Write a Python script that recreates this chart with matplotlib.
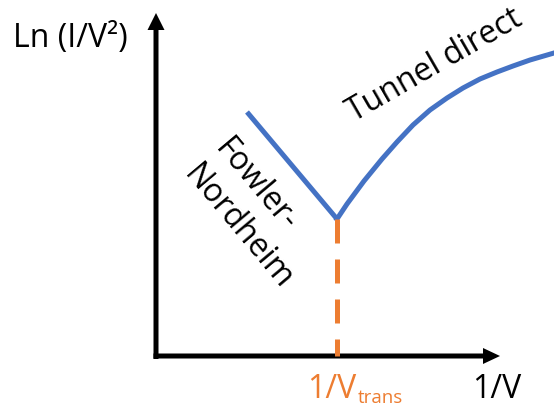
import matplotlib
matplotlib.use('Agg')
import matplotlib.pyplot as plt

plt.rcParams['font.family'] = ['Open Sans', 'DejaVu Sans']

# courbe schematique ln(I/V^2) en fonction de 1/V
x_fn = [0.91, 1.81]
y_fn = [2.44, 1.37]
x_td = [1.81, 1.91, 2.08, 2.26, 2.41, 2.57, 2.74, 2.91, 3.07, 3.24, 3.41, 3.57, 3.74, 3.98]
y_td = [1.37, 1.52, 1.75, 1.97, 2.14, 2.31, 2.46, 2.58, 2.68, 2.77, 2.84, 2.90, 2.96, 3.03]
x_trans = 1.81

bleu = '#4472C4'
orange = '#ED7D31'

fig = plt.figure(figsize=(5.54, 4.07), dpi=100)
ax = fig.add_axes([0, 0, 1, 1])
ax.set_xlim(-1.56, 3.98)
ax.set_ylim(-0.51, 3.56)
ax.axis('off')

# axes avec fleches
ax.arrow(0, -0.03, 0, 3.46, width=0.05, head_width=0.17, head_length=0.17,
         length_includes_head=True, fc='k', ec='none', zorder=2)
ax.arrow(-0.025, 0, 3.465, 0, width=0.05, head_width=0.16, head_length=0.17,
         length_includes_head=True, fc='k', ec='none', zorder=2)

ax.plot(x_fn, y_fn, color=bleu, lw=3.6, solid_capstyle='butt', zorder=3)
ax.plot(x_td, y_td, color=bleu, lw=3.6, solid_joinstyle='round', zorder=3)
ax.plot([x_trans, x_trans], [y_fn[1], 0], color=orange, lw=3.6,
        linestyle=(0, (4.8, 3.2)), zorder=4)

ax.text(-1.43, 3.09, 'Ln (I/V²)', fontsize=23, ha='left', va='baseline')
ax.text(3.16, -0.42, '1/V', fontsize=23, ha='left', va='baseline')
t = ax.text(1.51, -0.42, '1/V', fontsize=23, color=orange,
            ha='left', va='baseline')
ax.annotate('trans', xy=(1, 0), xycoords=t, xytext=(1, 2.5),
            textcoords='offset points', fontsize=13.5, color=orange,
            ha='left', va='baseline')
ax.text(1.98, 2.34, 'Tunnel direct', fontsize=23, rotation=30,
        rotation_mode='anchor', ha='left', va='baseline')
ax.text(0.77, 2.23, 'Fowler-\nNordheim', fontsize=23, rotation=-50,
        rotation_mode='anchor', ha='left', va='top', multialignment='left',
        linespacing=1.3)

fig.savefig('out.png', dpi=100)
